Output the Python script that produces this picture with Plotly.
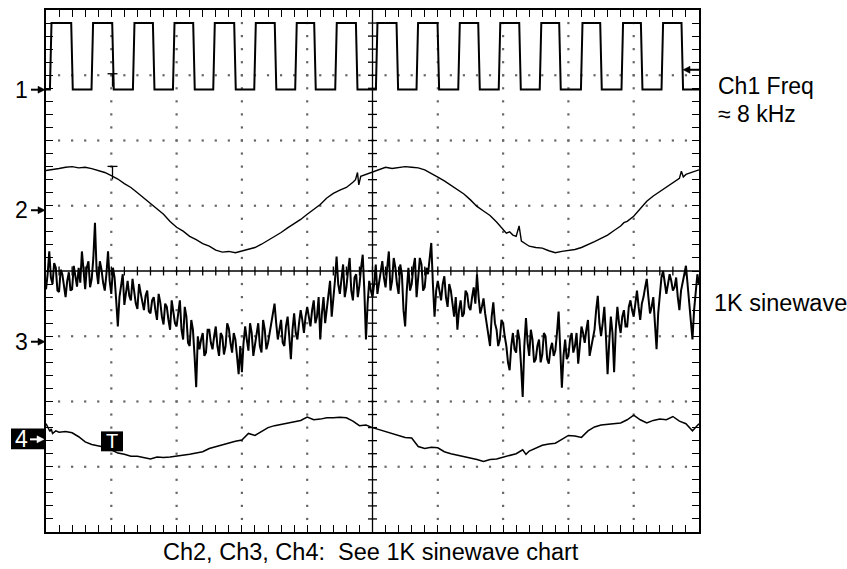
import numpy as np
import plotly.graph_objects as go

# screen is 10 x 8 divisions; values below are in divisions (y = 0 at bottom)
# Ch1: square wave, edge times (div) alternating rise / fall, two levels
ch1_edges = [0.072, 0.398, 0.709, 1.026, 1.343, 1.649, 1.956, 2.266, 2.573, 2.894,
             3.201, 3.515, 3.828, 4.119, 4.441, 4.758, 5.064, 5.380, 5.686, 6.008,
             6.325, 6.631, 6.945, 7.259, 7.573, 7.871, 8.204, 8.499, 8.825, 9.122,
             9.438, 9.744]
ch1_low = 6.78
ch1_high = 7.80

# Ch2: 1K sine
ch2_t = [0.0, 0.1, 0.2, 0.3, 0.4, 0.5, 0.6, 0.7, 0.8, 0.9, 1.0, 1.1, 1.2, 1.3, 1.4,
         1.5, 1.6, 1.7, 1.8, 1.9, 2.0, 2.1, 2.2, 2.3, 2.4, 2.5, 2.6, 2.7, 2.8, 2.9,
         3.0, 3.1, 3.2, 3.3, 3.4, 3.5, 3.6, 3.7, 3.8, 3.9, 4.0, 4.1, 4.2, 4.3, 4.4,
         4.5, 4.6, 4.7, 4.74, 4.77, 4.79, 4.82, 4.9, 5.0,
         5.1, 5.2, 5.3, 5.4, 5.5, 5.6, 5.7, 5.8, 5.9, 6.0, 6.1, 6.2, 6.3, 6.4, 6.5,
         6.6, 6.7, 6.8, 6.9, 7.0, 7.05, 7.1, 7.15, 7.2, 7.245, 7.28, 7.35, 7.4, 7.5,
         7.6, 7.7, 7.8, 7.9, 8.0, 8.1, 8.2, 8.3, 8.4, 8.5, 8.6, 8.7, 8.8, 8.85, 8.9,
         9.0, 9.1, 9.2, 9.3, 9.4, 9.5, 9.6, 9.7, 9.73, 9.76, 9.8, 9.9, 10.0]
ch2_v = [5.54, 5.55, 5.57, 5.59, 5.60, 5.58, 5.59, 5.57, 5.54, 5.51, 5.46, 5.41, 5.34, 5.28, 5.20,
         5.12, 5.03, 4.95, 4.87, 4.76, 4.67, 4.61, 4.53, 4.48, 4.42, 4.38, 4.32, 4.29, 4.30, 4.28,
         4.31, 4.33, 4.36, 4.41, 4.47, 4.52, 4.59, 4.66, 4.72, 4.79, 4.87, 4.95, 5.02, 5.12, 5.19,
         5.24, 5.28, 5.36, 5.40, 5.51, 5.32, 5.45, 5.48, 5.51,
         5.55, 5.59, 5.57, 5.58, 5.60, 5.59, 5.58, 5.55, 5.50, 5.44, 5.38, 5.31, 5.25, 5.18, 5.09,
         4.99, 4.92, 4.85, 4.75, 4.63, 4.58, 4.60, 4.55, 4.53, 4.69, 4.46, 4.41, 4.38, 4.36,
         4.35, 4.31, 4.28, 4.30, 4.31, 4.33, 4.36, 4.40, 4.45, 4.50, 4.55, 4.62, 4.69, 4.74, 4.76,
         4.84, 4.96, 5.07, 5.15, 5.22, 5.29, 5.35, 5.42, 5.53, 5.44, 5.48, 5.52, 5.55]

# Ch3: noisy 1K sine, samples every 0.05 div starting at 0 ...
ch3_v = [3.72, 4.30, 3.80, 4.05, 3.68, 3.95, 3.60, 3.98, 3.72, 3.90,
         4.05, 4.30, 3.72, 4.15, 3.88, 4.74, 3.80, 4.02, 3.70, 4.30,
         3.65, 3.90, 3.15, 3.78, 3.48, 3.85, 3.55, 3.72, 3.42, 3.66,
         3.40, 3.70, 3.35, 3.60, 3.25, 3.52, 3.18, 3.45, 3.10, 3.38,
         3.15, 3.55, 2.95, 3.30, 2.85, 3.10, 2.22, 2.80, 3.05, 2.75,
         3.10, 2.80, 3.15, 2.70, 3.00, 2.85, 3.12, 2.75, 2.95, 2.42,
         2.45, 3.15, 2.78, 3.05, 2.85, 3.20, 2.75, 3.10, 2.90, 3.20,
         3.50, 2.95, 3.25, 2.85, 3.30, 2.65, 3.35, 2.95, 3.40, 3.05,
         3.45, 3.15, 3.55, 3.30, 2.95, 3.60, 3.45, 3.85, 3.55, 4.22,
         3.65, 4.10, 3.75, 4.20, 3.55, 3.95, 3.78, 4.25, 2.95, 3.85,
         3.60, 4.10, 3.80, 4.15, 3.75, 4.30, 3.85, 4.05, 3.65, 3.95,
         3.15, 4.05, 3.80, 4.20, 3.85, 4.10, 3.75, 3.95, 4.43, 3.30,
         3.85, 3.55, 3.92, 3.45, 3.70, 3.30, 3.10, 3.55, 3.35, 3.65,
         3.40, 3.75, 3.95, 3.35, 3.58, 3.20, 2.85, 3.52, 3.10, 2.95,
         3.20, 2.85, 2.48, 3.05, 2.75, 2.95, 2.07, 3.28, 2.70, 2.95,
         2.65, 2.95, 2.72, 3.00, 2.58, 2.90, 2.78, 3.38, 2.21, 2.95,
         2.70, 3.05, 2.85, 2.58, 3.15, 2.90, 3.25, 2.85, 3.10, 3.62,
         3.00, 3.45, 2.42, 3.30, 2.45, 3.45, 3.05, 3.40, 3.15, 3.55,
         3.30, 3.70, 3.25, 3.60, 3.88, 3.35, 3.60, 2.80, 3.70, 4.00,
         3.65, 3.95, 3.70, 3.90, 3.40, 3.85, 4.08, 3.55, 2.95, 3.70, 3.80]
# ... and the samples halfway between them (0.025, 0.075, ...)
ch3_mid = [3.95, 3.90, 4.12, 3.70, 4.02, 3.78, 3.85, 3.70, 4.08, 3.76,
           3.82, 3.95, 4.05, 3.75, 4.20, 4.00, 4.15, 3.82, 3.95, 3.85,
           4.05, 3.55, 3.60, 3.95, 3.70, 3.62, 3.88, 3.50, 3.80, 3.50,
           3.62, 3.38, 3.55, 3.40, 3.65, 3.30, 3.50, 3.25, 3.55, 3.20,
           3.35, 3.10, 3.45, 2.90, 3.25, 2.70, 3.00, 2.95, 2.70, 3.10,
           2.90, 3.00, 2.85, 3.05, 2.72, 3.20, 2.90, 3.05, 2.70, 2.85,
           2.90, 2.95, 3.20, 2.70, 3.05, 2.85, 3.25, 2.80, 3.05, 3.35,
           3.20, 3.10, 2.90, 3.15, 3.00, 3.10, 3.05, 3.20, 3.25, 3.30,
           3.30, 3.40, 3.20, 3.60, 3.35, 3.20, 3.70, 3.30, 3.85, 3.80,
           3.85, 3.60, 4.00, 3.70, 3.90, 3.60, 4.05, 3.70, 3.50, 3.70,
           3.80, 3.65, 4.00, 3.90, 4.05, 3.70, 4.20, 3.80, 4.10, 3.40,
           3.70, 3.70, 4.05, 3.60, 4.20, 3.70, 4.05, 4.20, 3.80, 3.70,
           3.70, 3.80, 3.60, 3.80, 3.50, 3.60, 3.40, 3.30, 3.70, 3.45,
           3.60, 3.50, 3.60, 3.45, 3.35, 3.05, 3.30, 3.20, 2.85, 3.25,
           3.00, 2.60, 2.85, 2.80, 3.10, 2.55, 2.85, 2.90, 3.10, 2.60,
           2.85, 2.60, 3.05, 2.65, 2.80, 2.70, 3.05, 2.80, 2.70, 2.65,
           2.95, 2.75, 3.05, 2.85, 3.05, 3.10, 2.70, 3.00, 3.40, 3.20,
           3.20, 3.00, 2.90, 3.05, 3.10, 3.20, 3.30, 3.15, 3.45, 3.40,
           3.50, 3.45, 3.50, 3.75, 3.60, 3.45, 3.20, 3.35, 3.90, 3.80,
           3.80, 3.85, 3.75, 3.60, 3.70, 3.95, 3.80, 3.30, 3.40, 3.95]

# Ch4: slow sine
ch4_t = [0.0, 0.03, 0.06, 0.08, 0.1, 0.15, 0.2, 0.3, 0.4, 0.5, 0.6, 0.7, 0.8, 0.9,
         1.0, 1.1, 1.2, 1.3, 1.4, 1.5, 1.6, 1.7, 1.8, 1.9, 2.0, 2.1, 2.2, 2.3, 2.4,
         2.5, 2.6, 2.7, 2.8, 2.9, 3.0, 3.1, 3.2, 3.3, 3.4, 3.5, 3.6, 3.7, 3.8, 3.9,
         4.0, 4.1, 4.2, 4.3, 4.4, 4.5, 4.6, 4.7, 4.8, 4.9, 5.0,
         5.1, 5.2, 5.3, 5.4, 5.5, 5.6, 5.7, 5.8, 5.9, 6.0, 6.1, 6.2, 6.3, 6.4, 6.5,
         6.6, 6.7, 6.8, 6.9, 7.0, 7.1, 7.2, 7.3, 7.35, 7.4, 7.5, 7.6, 7.7, 7.8, 7.9,
         8.0, 8.1, 8.2, 8.3, 8.4, 8.5, 8.6, 8.7, 8.8, 8.9, 9.0, 9.1, 9.2, 9.3, 9.4,
         9.5, 9.6, 9.7, 9.8, 9.9, 10.0]
ch4_v = [1.66, 1.60, 1.54, 1.58, 1.51, 1.55, 1.53, 1.54, 1.52, 1.46, 1.38, 1.34, 1.32, 1.30,
         1.26, 1.21, 1.19, 1.16, 1.16, 1.14, 1.12, 1.15, 1.14, 1.15, 1.16, 1.17, 1.19, 1.21, 1.23,
         1.28, 1.31, 1.33, 1.36, 1.39, 1.41, 1.51, 1.48, 1.54, 1.60, 1.63, 1.65, 1.67, 1.70, 1.71,
         1.76, 1.72, 1.73, 1.75, 1.75, 1.76, 1.75, 1.70, 1.63, 1.64, 1.60,
         1.57, 1.53, 1.50, 1.47, 1.45, 1.44, 1.31, 1.28, 1.30, 1.29, 1.23, 1.20, 1.18, 1.15, 1.13,
         1.11, 1.08, 1.11, 1.12, 1.15, 1.18, 1.20, 1.26, 1.19, 1.24, 1.28, 1.33, 1.35, 1.36, 1.42,
         1.48, 1.47, 1.45, 1.55, 1.61, 1.64, 1.65, 1.66, 1.67, 1.72, 1.79, 1.72, 1.67, 1.71, 1.73,
         1.72, 1.77, 1.70, 1.66, 1.55, 1.66]

# pixel frame of the screen
L, R, T, B = 46, 699, 8, 532
W, H = 847, 569
DX = (R - L) / 10
DY = (B - T) / 8


def px(x):
    return (x - L) / (R - L)


def py(y):
    return (B - y) / (B - T)


fig = go.Figure()

# graticule dots
gx, gy = [], []
minor = np.round(np.arange(0.2, 10, 0.2), 2)
minor_y = np.round(np.arange(0.2, 8, 0.2), 2)
for xv in [1, 2, 3, 4, 6, 7, 8, 9]:
    gx += [xv] * len(minor_y)
    gy += list(minor_y)
for yv in [1, 2, 3, 5, 6, 7]:
    gx += list(minor)
    gy += [yv] * len(minor)
fig.add_trace(go.Scatter(x=gx, y=gy, mode='markers',
                         marker=dict(size=2.2, color='#666', symbol='square'),
                         hoverinfo='skip'))

# centre cross with ticks
cx, cy = [0, 10, None, 5, 5, None], [4, 4, None, 0, 8, None]
tx = 4.5 / DX
ty = 4.5 / DY
for v in minor:
    cx += [v, v, None]
    cy += [4 - ty, 4 + ty, None]
for v in minor_y:
    cx += [5 - tx, 5 + tx, None]
    cy += [v, v, None]
fig.add_trace(go.Scatter(x=cx, y=cy, mode='lines', line=dict(color='black', width=1.3),
                         hoverinfo='skip'))

# Ch1 square wave built from edge list
sx, sy = [0.0], [ch1_low]
level = ch1_low
for k, e in enumerate(ch1_edges):
    new = ch1_high if k % 2 == 0 else ch1_low
    sx += [e - 0.012, e + 0.012]
    sy += [level, new]
    level = new
sx.append(10.0)
sy.append(level)
fig.add_trace(go.Scatter(x=sx, y=sy, mode='lines', line=dict(color='black', width=2)))

fig.add_trace(go.Scatter(x=ch2_t, y=ch2_v, mode='lines', line=dict(color='black', width=1.4)))

# merge both sample sets of Ch3 in time order
t_main = np.arange(len(ch3_v)) * 0.05
t_mid = np.arange(len(ch3_mid)) * 0.05 + 0.025
ch3_t = np.concatenate([t_main, t_mid])
ch3_y = np.concatenate([ch3_v, ch3_mid])
order = np.argsort(ch3_t)
fig.add_trace(go.Scatter(x=ch3_t[order], y=ch3_y[order], mode='lines',
                         line=dict(color='black', width=2)))

fig.add_trace(go.Scatter(x=ch4_t, y=ch4_v, mode='lines', line=dict(color='black', width=1.5)))

shapes = []
annots = []


def right_arrow(x0, y, color):
    shapes.append(dict(type='line', xref='paper', yref='paper', x0=px(x0), x1=px(x0 + 8),
                       y0=py(y), y1=py(y), line=dict(color=color, width=2)))
    shapes.append(dict(type='path', xref='paper', yref='paper',
                       path=f'M {px(x0 + 7)},{py(y - 3.5)} L {px(x0 + 14)},{py(y)} L {px(x0 + 7)},{py(y + 3.5)} Z',
                       fillcolor=color, line=dict(color=color, width=0.5)))


# channel markers on the left
for lab, yy in [('1', 88), ('2', 209), ('3', 341)]:
    annots.append(dict(x=px(22), y=py(yy), xref='paper', yref='paper', text=lab, showarrow=False,
                       font=dict(size=23, color='black'), xanchor='center', yanchor='middle'))
    right_arrow(31, yy, 'black')

shapes.append(dict(type='rect', xref='paper', yref='paper', x0=px(11), x1=px(46),
                   y0=py(449), y1=py(428), fillcolor='black', line=dict(width=0)))
annots.append(dict(x=px(21), y=py(439), xref='paper', yref='paper', text='4', showarrow=False,
                   font=dict(size=23, color='white'), xanchor='center', yanchor='middle'))
right_arrow(30, 439, 'white')

# trigger level arrow on the right
shapes.append(dict(type='line', xref='paper', yref='paper', x0=px(689), x1=px(699),
                   y0=py(68), y1=py(68), line=dict(color='black', width=2)))
shapes.append(dict(type='path', xref='paper', yref='paper',
                   path=f'M {px(690)},{py(64.5)} L {px(683)},{py(68)} L {px(690)},{py(71.5)} Z',
                   fillcolor='black', line=dict(color='black', width=0.5)))

# trigger "T" marks
for ty0, ty1 in [(72, 85), (165, 178)]:
    shapes.append(dict(type='line', xref='paper', yref='paper', x0=px(107.5), x1=px(117.5),
                       y0=py(ty0), y1=py(ty0), line=dict(color='black', width=1.3)))
    shapes.append(dict(type='line', xref='paper', yref='paper', x0=px(112.5), x1=px(112.5),
                       y0=py(ty0), y1=py(ty1), line=dict(color='black', width=1.3)))
shapes.append(dict(type='rect', xref='paper', yref='paper', x0=px(101), x1=px(123),
                   y0=py(451), y1=py(431), fillcolor='black', line=dict(width=0)))
annots.append(dict(x=px(112), y=py(441), xref='paper', yref='paper', text='T', showarrow=False,
                   font=dict(size=20, color='white'), xanchor='center', yanchor='middle'))

# side and bottom notes
annots.append(dict(x=px(716), y=py(84), xref='paper', yref='paper', text='Ch1 Freq',
                   showarrow=False, xanchor='left', yanchor='middle', font=dict(size=23)))
annots.append(dict(x=px(716), y=py(112), xref='paper', yref='paper', text='\u2248 8 kHz',
                   showarrow=False, xanchor='left', yanchor='middle', font=dict(size=23)))
annots.append(dict(x=px(712), y=py(302), xref='paper', yref='paper', text='1K sinewave',
                   showarrow=False, xanchor='left', yanchor='middle', font=dict(size=23.5)))
annots.append(dict(x=px(371), y=py(552), xref='paper', yref='paper',
                   text='Ch2, Ch3, Ch4:\u00a0 See 1K sinewave chart',
                   showarrow=False, xanchor='center', yanchor='middle', font=dict(size=23.5)))

axis = dict(showgrid=False, zeroline=False, showticklabels=False, ticks='inside',
            ticklen=7, tickwidth=1, tickcolor='black', dtick=0.2, tick0=0,
            showline=True, linecolor='black', linewidth=2, mirror='allticks', fixedrange=True)

fig.update_layout(
    width=W, height=H,
    margin=dict(l=L, r=W - R, t=T, b=H - B),
    paper_bgcolor='white', plot_bgcolor='white',
    showlegend=False,
    font=dict(family='Liberation Sans, Arial, sans-serif', color='black'),
    xaxis=dict(range=[0, 10], **axis),
    yaxis=dict(range=[0, 8], **axis),
    shapes=shapes, annotations=annots,
)

fig.write_html("out.html", config={'displayModeBar': False},
               post_script="document.body.style.margin='0';")
